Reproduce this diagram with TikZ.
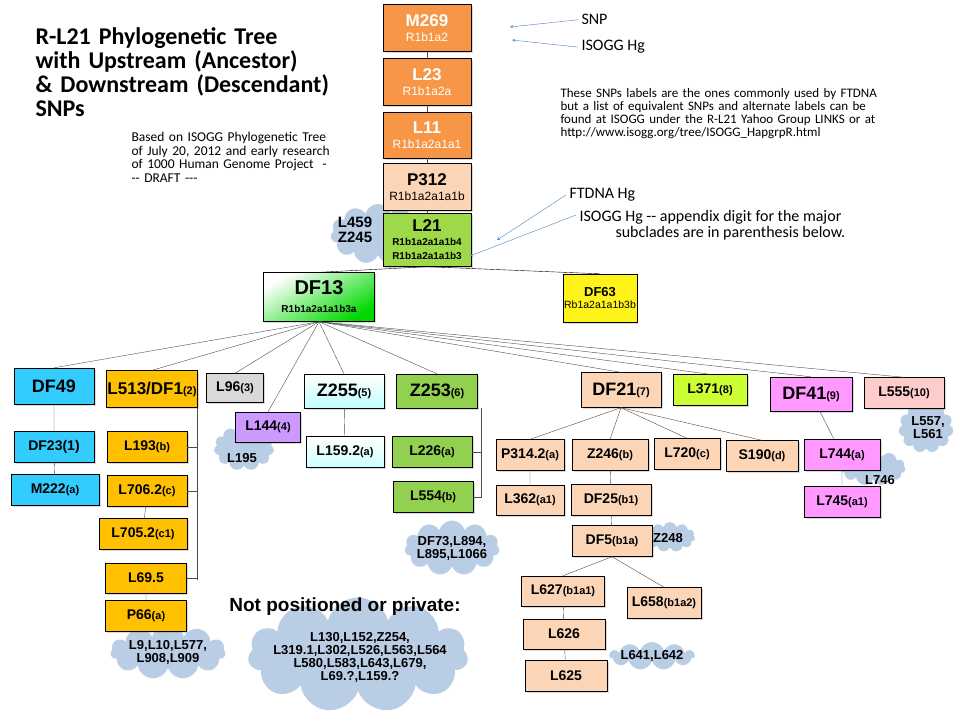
\documentclass[tikz,border=0pt]{standalone}
\usepackage{fontspec}
\setmainfont{Liberation Sans}
\newfontfamily\calfont{Carlito}
\usetikzlibrary{shapes.symbols,shadows}
\definecolor{orng}{HTML}{F79646}
\definecolor{peach}{HTML}{FBD5B5}
\definecolor{gold}{HTML}{FFC000}
\definecolor{sky}{HTML}{33CCFF}
\definecolor{leaf}{HTML}{92D050}
\definecolor{lime}{HTML}{CCFF33}
\definecolor{pinkish}{HTML}{FF99FF}
\definecolor{rose}{HTML}{FFCCCC}
\definecolor{lilac}{HTML}{CC99FF}
\definecolor{cloudblue}{HTML}{B9CDE5}
\definecolor{arrowblue}{HTML}{4F81BD}
\newcommand{\sub}[1]{{\fontsize{11}{12}\selectfont #1}}
\newcommand{\fs}[1]{\fontsize{#1}{#1}\selectfont}
\begin{document}
\begin{tikzpicture}[x=1pt,y=-1pt,
  box/.style={draw,inner sep=1pt,align=center,font=\bfseries\fs{14},
    drop shadow={opacity=0.3,shadow xshift=1.5pt,shadow yshift=-1.5pt}},
  cld/.style={cloud,cloud puffs=11,cloud ignores aspect,fill=cloudblue,inner sep=0pt},
  ctext/.style={align=center,font=\bfseries\fs{13}},
  link/.style={draw,gray!60!black,thin},
  note/.style={align=left,anchor=north west},
  pointer/.style={-stealth,arrowblue,thin}]
\useasboundingbox (0,0) rectangle (960,720);

% clouds behind the boxes
\node[cld,minimum width=95,minimum height=60] (c21) at (378,234) {};
\node[ctext,font=\bfseries\fs{15},align=left] (t21) at (355,230) {L459\\Z245};
\node[cld,minimum width=60,minimum height=45] (c144) at (244,448) {};
\node[ctext] (t144) at (242,458) {L195};
\node[cld,minimum width=95,minimum height=55] (cdf73) at (452,548) {};
\node[ctext] (tdf73) at (452,548) {DF73,L894,\\L895,L1066};
\node[cld,minimum width=50,minimum height=30] (c248) at (670,537) {};
\node[ctext] (t248) at (668,538) {Z248};
\node[cld,minimum width=85,minimum height=28] (c641) at (652,656) {};
\node[ctext] (t641) at (652,656) {L641,L642};
\node[cld,minimum width=65,minimum height=35] (c746) at (873,468) {};
\node[ctext] (t746) at (880,480) {L746};
\node[cld,minimum width=55,minimum height=50] (c555) at (926,428) {};
\node[ctext] (t555) at (928,428) {L557,\\L561};
\node[cld,minimum width=115,minimum height=55] (c9) at (168,652) {};
\node[ctext] (t9) at (168,652) {L9,L10,L577,\\L908,L909};
\node[cld,minimum width=220,minimum height=115] (cnp) at (358,655) {};
\node[font=\bfseries\fs{19}] (tnp) at (345,607) {Not positioned or private:};
\node[ctext] (lnp) at (360,657)
  {L130,L152,Z254,\\L319.1,L302,L526,L563,L564\\L580,L583,L643,L679,\\L69.?,L159.?};

% upstream column
\node[box,fill=orng,text=white,minimum width=88,minimum height=47,font=\bfseries\fs{17}] (m269) at (427,28)
  {M269\\[-2pt]\mdseries\fs{12}R1b1a2};
\node[box,fill=orng,text=white,minimum width=88,minimum height=47,font=\bfseries\fs{17}] (l23) at (427,82)
  {L23\\[-2pt]\mdseries\fs{12}R1b1a2a};
\node[box,fill=orng,text=white,minimum width=88,minimum height=46,font=\bfseries\fs{17}] (l11) at (427,135)
  {L11\\[-2pt]\mdseries\fs{12}R1b1a2a1a1};
\node[box,fill=peach,minimum width=88,minimum height=47,font=\bfseries\fs{17}] (p312) at (427,187)
  {P312\\[-2pt]\mdseries\fs{12}R1b1a2a1a1b};
\node[box,fill=leaf!80!lime,minimum width=88,minimum height=53,font=\bfseries\fs{17}] (l21) at (427,240)
  {L21\\[-3pt]\fs{10}R1b1a2a1a1b4\\[-3pt]\fs{10}R1b1a2a1a1b3};
\node[box,top color=white,bottom color=green!85!black,shading angle=30,minimum width=111,minimum height=49,font=\bfseries\fs{20}] (df13) at (319,297)
  {DF13\\[-2pt]\fs{10}R1b1a2a1a1b3a};
\node[box,fill=yellow!90!white,minimum width=69,minimum height=48,font=\bfseries\fs{13}] (df63) at (600,298)
  {DF63\\[-1pt]\mdseries\fs{10.5}Rb1a2a1a1b3b};
\draw[link] (m269) -- (l23) (l23) -- (l11) (l11) -- (p312) (p312) -- (l21);
\draw[link,black] (l21.south) -- (df13.north) (l21.south) -- (df63.north);

% major subclades
\node[box,fill=sky,minimum width=80,minimum height=36,font=\bfseries\fs{18}] (df49) at (54,386) {DF49};
\node[box,fill=gold,minimum width=87,minimum height=37,font=\bfseries\fs{17}] (l513) at (152,389) {L513/DF1\sub{(2)}};
\node[box,fill=gray!30,minimum width=57,minimum height=29] (l96) at (235,388) {L96\sub{(3)}};
\node[box,fill=lilac,minimum width=65,minimum height=30] (l144) at (268,427) {L144\sub{(4)}};
\node[box,top color=white,bottom color=cyan!25,minimum width=80,minimum height=34,font=\bfseries\fs{18}] (z255) at (344,391) {Z255\sub{(5)}};
\node[box,fill=leaf,minimum width=81,minimum height=34,font=\bfseries\fs{18}] (z253) at (437,391) {Z253\sub{(6)}};
\node[box,fill=peach,minimum width=80,minimum height=35,font=\bfseries\fs{18}] (df21) at (621,390) {DF21\sub{(7)}};
\node[box,fill=lime,minimum width=74,minimum height=31] (l371) at (710,390) {L371\sub{(8)}};
\node[box,fill=pinkish,minimum width=82,minimum height=34,font=\bfseries\fs{18}] (df41) at (811,394) {DF41\sub{(9)}};
\node[box,fill=rose,minimum width=80,minimum height=31] (l555) at (904,393) {L555\sub{(10)}};
\foreach \n in {df49,l513,l96,l144,z255,z253,df21,l371,df41,l555}
  \draw[link] (df13.south) -- (\n.north);

% DF49 branch
\node[box,fill=sky,minimum width=80,minimum height=31] (df23) at (54,447) {DF23(1)};
\node[box,fill=sky,minimum width=88,minimum height=31] (m222) at (55,490) {M222\sub{(a)}};
\draw[link] (df49) -- (df23) (df23) -- (m222);

% L513 branch
\node[box,fill=gold,minimum width=80,minimum height=31] (l193) at (147,447) {L193\sub{(b)}};
\node[box,fill=gold,minimum width=80,minimum height=31] (l706) at (147,491) {L706.2\sub{(c)}};
\node[box,fill=gold,minimum width=88,minimum height=31] (l705) at (143,534) {L705.2\sub{(c1)}};
\node[box,fill=gold,minimum width=81,minimum height=30] (l695) at (146,578) {L69.5};
\node[box,fill=gold,minimum width=81,minimum height=31] (p66) at (146,616) {P66\sub{(a)}};
\coordinate (b513) at (196,580);
\draw[link] (l513.south east) ++(-1,0) coordinate (t513) -- (t513 |- b513);
\foreach \n in {l193,l706,l695}
  \draw[link] (\n.east) -- (\n.east -| t513);
\draw[link] (l706) -- (l705) (l695) -- (p66);

% Z255, Z253 branches
\node[box,top color=white,bottom color=cyan!20,minimum width=78,minimum height=31] (l159) at (345,452) {L159.2\sub{(a)}};
\draw[link] (z255) -- (l159);
\node[box,fill=leaf,minimum width=80,minimum height=31] (l226) at (432,452) {L226\sub{(a)}};
\node[box,fill=leaf,minimum width=80,minimum height=31] (l554) at (433,497) {L554\sub{(b)}};
\draw[link] (z253.south east) ++(3,0) coordinate (t253) -- (t253 |- l554.east)
  -- (l554.east) (l226.east) -- (l226.east -| t253);

% DF21 branch
\node[box,fill=peach,minimum width=68,minimum height=31] (p314) at (530,455) {P314.2\sub{(a)}};
\node[box,fill=peach,minimum width=76,minimum height=31] (z246) at (610,455) {Z246\sub{(b)}};
\node[box,fill=peach,minimum width=66,minimum height=31] (l720) at (687,454) {L720\sub{(c)}};
\node[box,fill=peach,minimum width=72,minimum height=31] (s190) at (762,456) {S190\sub{(d)}};
\foreach \n in {p314,z246,l720,s190}
  \draw[link] (df21.south) -- (\n.north);
\node[box,fill=peach,minimum width=68,minimum height=30] (l362) at (530,500) {L362\sub{(a1)}};
\node[box,fill=peach,minimum width=80,minimum height=31] (df25) at (611,500) {DF25\sub{(b1)}};
\node[box,fill=peach,minimum width=80,minimum height=31] (df5) at (612,541) {DF5\sub{(b1a)}};
\node[box,fill=peach,minimum width=83,minimum height=30] (l627) at (563,591) {L627\sub{(b1a1)}};
\node[box,fill=peach,minimum width=74,minimum height=31] (l658) at (664,603) {L658\sub{(b1a2)}};
\node[box,fill=peach,minimum width=82,minimum height=30] (l626) at (564,634) {L626};
\node[box,fill=peach,minimum width=82,minimum height=31] (l625) at (566,676) {L625};
\draw[link] (p314) -- (l362) (z246) -- (df25) (df25) -- (df5)
  (df5.south) -- (l627.north) (df5.south) -- (l658.north) (l627) -- (l626) (l626) -- (l625);

% DF41 branch
\node[box,fill=pinkish,minimum width=76,minimum height=31] (l744) at (842,455) {L744\sub{(a)}};
\node[box,fill=pinkish,minimum width=76,minimum height=31] (l745) at (842,502) {L745\sub{(a1)}};
\draw[link] (df41) -- (l744) (l744) -- (l745);

% titles and notes
\node[note,font=\calfont\bfseries\fs{24},text width=320] (title) at (32,24)
  {R-L21 Phylogenetic Tree\\with Upstream (Ancestor)\\\& Downstream (Descendant)\\SNPs};
\node[note,font=\calfont\fs{13.5},text width=230] (based) at (128,129)
  {Based on ISOGG Phylogenetic Tree\\of July 20, 2012 and early research\\of 1000 Human Genome Project\ \ -\\-{}- DRAFT -{}-{}-};
\node[note,font=\calfont\fs{13},text width=420] (equiv) at (557,85)
  {These SNPs labels are the ones commonly used by FTDNA\\but a list of equivalent SNPs and alternate labels can be\\found at ISOGG under the R-L21 Yahoo Group  LINKS or at\\http://www.isogg.org/tree/ISOGG\_HapgrpR.html};
\node[note,font=\calfont\fs{16}] (snp) at (578,11) {SNP};
\node[note,font=\calfont\fs{16}] (isogg) at (578,37) {ISOGG Hg};
\node[note,font=\calfont\fs{16}] (ftdna) at (566,185) {FTDNA Hg};
\node[note,font=\calfont\fs{16},align=left] (isogg2) at (576,207)
  {ISOGG Hg -- appendix digit for the major\\\hspace*{36pt}subclades are in parenthesis below.};
\coordinate (psnp) at (510,27);
\coordinate (piso) at (512,40);
\coordinate (pft) at (497,240);
\coordinate (pis2) at (470,256);
\draw[pointer] (snp.west) -- (psnp);
\draw[pointer] (isogg.west) -- (piso);
\draw[pointer] (ftdna.west) -- (pft);
\draw[pointer] ([yshift=-8pt]isogg2.north west) -- (pis2);
\end{tikzpicture}
\end{document}
